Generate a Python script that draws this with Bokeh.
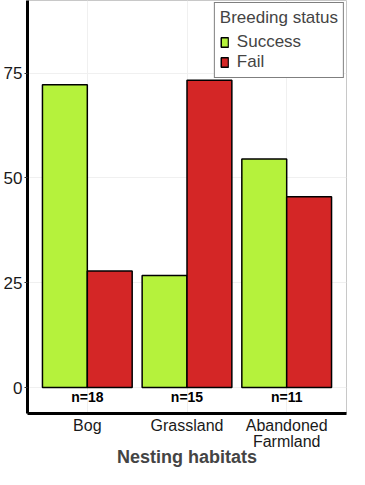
from bokeh.plotting import figure
from bokeh.models import ColumnDataSource, Range1d, FixedTicker
from bokeh.transform import dodge
from bokeh.core.properties import value
from bokeh.embed import file_html
from bokeh.resources import INLINE

habitats = ["Bog", "Grassland", "Abandoned Farmland"]
tick_labels = ["Bog", "Grassland", "Abandoned\nFarmland"]
success = [72.2, 26.7, 54.5]
fail = [27.8, 73.3, 45.5]
n_values = [18, 15, 11]
y_ticks = [0, 25, 50, 75]
Y_MIN, Y_MAX = -6.2, 92.3

FONT = "Liberation Sans"
GREEN = "#b5f23c"
RED = "#d42626"

pos = list(range(1, len(habitats) + 1))
src = ColumnDataSource(dict(
    pos=pos, habitat=habitats, success=success, fail=fail,
    nlab=["n=%d" % n for n in n_values],
    ny=[-2.2] * len(habitats),
))

p = figure(width=349, height=469, output_backend="svg", toolbar_location=None,
           x_range=Range1d(0.4, len(habitats) + 0.6),
           y_range=Range1d(Y_MIN, Y_MAX),
           min_border_left=18, min_border_right=3, min_border_top=0, min_border_bottom=0)

p.vbar(x=dodge("pos", -0.225), top="success", width=0.45, source=src,
       fill_color=GREEN, line_color="black", line_width=1.5, legend_label="Success")
p.vbar(x=dodge("pos", 0.225), top="fail", width=0.45, source=src,
       fill_color=RED, line_color="black", line_width=1.5, legend_label="Fail")

p.text(x="pos", y="ny", text="nlab", source=src, text_align="center", text_baseline="middle",
       text_font=value(FONT), text_font_style="bold", text_font_size="14px", text_color="black")

p.background_fill_color = "white"
p.border_fill_color = "white"
p.outline_line_color = "#c8c8c8"
p.outline_line_width = 1

p.xgrid.grid_line_color = "#f0f0f0"
p.xgrid.ticker = FixedTicker(ticks=pos)
p.ygrid.grid_line_color = "#f0f0f0"
p.ygrid.ticker = FixedTicker(ticks=y_ticks)

p.yaxis.ticker = FixedTicker(ticks=y_ticks)
p.yaxis.axis_line_width = 3
p.yaxis.axis_line_color = "black"
p.yaxis.major_tick_line_color = "#333333"
p.yaxis.major_tick_in = 0
p.yaxis.major_tick_out = 3
p.yaxis.minor_tick_line_color = None
p.yaxis.major_label_text_font = FONT
p.yaxis.major_label_text_font_size = "17px"
p.yaxis.major_label_text_color = "#1a1a1a"
p.yaxis.major_label_standoff = 2

p.xaxis.ticker = FixedTicker(ticks=pos)
p.xaxis.major_label_overrides = {x: lab for x, lab in zip(pos, tick_labels)}
p.xaxis.axis_line_width = 3
p.xaxis.axis_line_color = "black"
p.xaxis.major_tick_line_color = None
p.xaxis.major_tick_out = 0
p.xaxis.major_tick_in = 0
p.xaxis.minor_tick_line_color = None
p.xaxis.minor_tick_out = 0
p.xaxis.major_label_text_font = FONT
p.xaxis.major_label_text_font_size = "16px"
p.xaxis.major_label_text_color = "#1a1a1a"
p.xaxis.major_label_text_line_height = 0.95
p.xaxis.major_label_standoff = 3
p.xaxis.axis_label = "Nesting habitats"
p.xaxis.axis_label_text_font = FONT
p.xaxis.axis_label_text_font_style = "bold"
p.xaxis.axis_label_text_font_size = "18px"
p.xaxis.axis_label_text_line_height = 0.8
p.xaxis.axis_label_standoff = -6

lg = p.legend[0]
lg.location = "top_right"
lg.title = "Breeding status"
lg.title_text_font = FONT
lg.title_text_font_size = "17px"
lg.title_text_font_style = "normal"
lg.title_standoff = 4
lg.label_text_font = FONT
lg.label_text_font_size = "17px"
lg.label_height = 16
lg.glyph_height = 12
lg.glyph_width = 9
lg.label_standoff = 8
lg.spacing = 0
lg.padding = 5
lg.margin = 2
lg.border_line_color = "black"
lg.border_line_width = 1.5
lg.background_fill_alpha = 1

open("out.html", "w").write(file_html(p, INLINE))
